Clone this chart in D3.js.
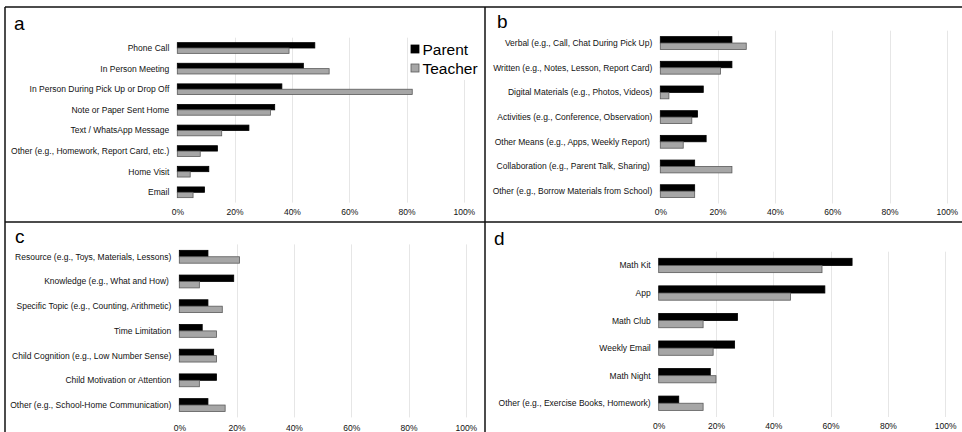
<!DOCTYPE html>
<html lang="en">
<head>
<meta charset="UTF-8">
<script src="https://d3js.org/d3.v7.min.js"></script>
<title>Parent and Teacher Survey</title>
<style>
  html, body { margin: 0; padding: 0; background: #fff; }
  svg { display: block; font-family: 'Liberation Sans', Arial, sans-serif; }
  .cat { font-size: 8.5px; fill: #111; white-space: pre; }
  .tick text { font-size: 8.5px; fill: #111; }
  .grid { stroke: #e6e6e6; stroke-width: 1; }
  .panel-letter { font-size: 19px; fill: #000; }
</style>
</head>
<body>
<svg id="canvas"></svg>
<script>
// ---- data ----
let seriesNames = ['Parent', 'Teacher']
let percentTicks = [0, 20, 40, 60, 80, 100]

let catsA = ['Phone Call', 'In Person Meeting', 'In Person During Pick Up or Drop Off',
  'Note or Paper Sent Home', 'Text / WhatsApp Message',
  'Other (e.g., Homework, Report Card, etc.)', 'Home Visit', 'Email']
let parentA = [48, 44, 36.5, 34, 25, 14, 11, 9.5]
let teacherA = [39, 53, 82, 32.5, 15.5, 8, 4.5, 5.5]

let catsB = ['Verbal (e.g., Call, Chat During Pick Up)', 'Written (e.g., Notes, Lesson, Report Card)',
  'Digital Materials (e.g., Photos, Videos)', 'Activities (e.g., Conference, Observation)',
  'Other Means (e.g., Apps, Weekly Report) ', 'Collaboration (e.g., Parent Talk, Sharing) ',
  'Other (e.g., Borrow Materials from School)']
let parentB = [25, 25, 15, 13, 16, 12, 12]
let teacherB = [30, 21, 3, 11, 8, 25, 12]

let catsC = ['Resource (e.g., Toys, Materials, Lessons)', 'Knowledge (e.g., What and How) ',
  'Specific Topic (e.g., Counting, Arithmetic)', 'Time Limitation',
  'Child Cognition (e.g., Low Number Sense)', 'Child Motivation or Attention',
  'Other (e.g., School-Home Communication)']
let parentC = [10, 19, 10, 8, 12, 13, 10]
let teacherC = [21, 7, 15, 13, 13, 7, 16]

let catsD = ['Math Kit', 'App', 'Math Club', 'Weekly Email', 'Math Night',
  'Other (e.g., Exercise Books, Homework)']
let parentD = [67.5, 58, 27.5, 26.5, 18, 7]
let teacherD = [57, 46, 15.5, 19, 20, 15.5]

// ---- layout ----
let width = 962
let height = 432
let axisWidth = 286.5

let colors = { Parent: '#000000', Teacher: '#a6a6a6' }
let strokes = { Parent: '#000000', Teacher: '#5a5a5a' }

let svg = d3.select('#canvas').attr('width', width).attr('height', height)

let panels = [
  { letter: 'a', lx: 14, ly: 30, x0: 177.3, top: 37.7, bottom: 202.6, tickY: 209, cats: catsA, parent: parentA, teacher: teacherA },
  { letter: 'b', lx: 497, ly: 28, x0: 660.3, top: 30.7, bottom: 203.5, tickY: 209, cats: catsB, parent: parentB, teacher: teacherB },
  { letter: 'c', lx: 15, ly: 243, x0: 179.3, top: 244.4, bottom: 417.4, tickY: 425, cats: catsC, parent: parentC, teacher: teacherC },
  { letter: 'd', lx: 494, ly: 245, x0: 658.7, top: 251.7, bottom: 417, tickY: 422.5, cats: catsD, parent: parentD, teacher: teacherD }
]

let drawPanel = (p) => {
  let g = svg.append('g')

  let xScale = d3.scaleLinear()
    .domain([0, 100])
    .range([p.x0, p.x0 + axisWidth])

  let yScale = d3.scaleBand()
    .domain(p.cats)
    .range([p.top, p.bottom])
    .paddingInner(0.48)
    .paddingOuter(0.24)

  let subScale = d3.scaleBand()
    .domain(seriesNames)
    .range([0, yScale.bandwidth()])

  // gridlines
  g.selectAll('.grid')
    .data(percentTicks.filter(t => t > 0))
    .enter()
    .append('line')
    .attr('class', 'grid')
    .attr('x1', d => Math.round(xScale(d)) + 0.5)
    .attr('x2', d => Math.round(xScale(d)) + 0.5)
    .attr('y1', p.top)
    .attr('y2', p.bottom)

  // x axis labels
  let xAxis = d3.axisBottom(xScale)
    .tickValues(percentTicks)
    .tickSize(0)
    .tickPadding(0)
    .tickFormat(d => d + '%')

  let ax = g.append('g')
    .attr('transform', 'translate(0,' + p.tickY + ')')
    .call(xAxis)
  ax.select('.domain').remove()
  ax.selectAll('text').attr('font-family', null).attr('font-size', null)

  // category labels
  g.selectAll('.cat')
    .data(p.cats)
    .enter()
    .append('text')
    .attr('class', 'cat')
    .attr('x', p.x0 - 8)
    .attr('y', d => yScale(d) + yScale.bandwidth() / 2)
    .attr('dy', '0.35em')
    .attr('text-anchor', 'end')
    .text(d => d)

  // bars
  let rows = p.cats.map((c, i) => ({ cat: c, Parent: p.parent[i], Teacher: p.teacher[i] }))
  let rowG = g.selectAll('.row')
    .data(rows)
    .enter()
    .append('g')
    .attr('transform', d => 'translate(0,' + yScale(d.cat) + ')')

  rowG.selectAll('rect')
    .data(d => seriesNames.map(s => ({ series: s, value: d[s] })))
    .enter()
    .append('rect')
    .attr('x', xScale(0))
    .attr('y', d => subScale(d.series))
    .attr('width', d => xScale(d.value) - xScale(0))
    .attr('height', subScale.bandwidth())
    .attr('fill', d => colors[d.series])
    .attr('stroke', d => strokes[d.series])
    .attr('stroke-width', 0.8)

  g.append('text')
    .attr('class', 'panel-letter')
    .attr('x', p.lx)
    .attr('y', p.ly)
    .text(p.letter)
}

panels.forEach(drawPanel)

// legend (panel a)
let legend = svg.append('g')
legend.append('rect')
  .attr('x', 408).attr('y', 36).attr('width', 68).attr('height', 44)
  .attr('fill', '#fff')
seriesNames.forEach((s, i) => {
  legend.append('rect')
    .attr('x', 411).attr('y', 45 + i * 19)
    .attr('width', 8).attr('height', 8)
    .attr('fill', colors[s])
    .attr('stroke', strokes[s])
    .attr('stroke-width', 0.8)
  legend.append('text')
    .attr('x', 422.5).attr('y', 54.5 + i * 19)
    .attr('font-size', '15.5px')
    .text(s)
})

// panel frame lines
let frame = [
  [5, 7, width, 7],
  [5, 7, 5, height],
  [485, 7, 485, height],
  [5, 222, width, 222]
]
svg.selectAll('.frame')
  .data(frame)
  .enter()
  .append('line')
  .attr('x1', d => d[0]).attr('y1', d => d[1])
  .attr('x2', d => d[2]).attr('y2', d => d[3])
  .attr('stroke', '#111')
  .attr('stroke-width', 1.5)
</script>
</body>
</html>
